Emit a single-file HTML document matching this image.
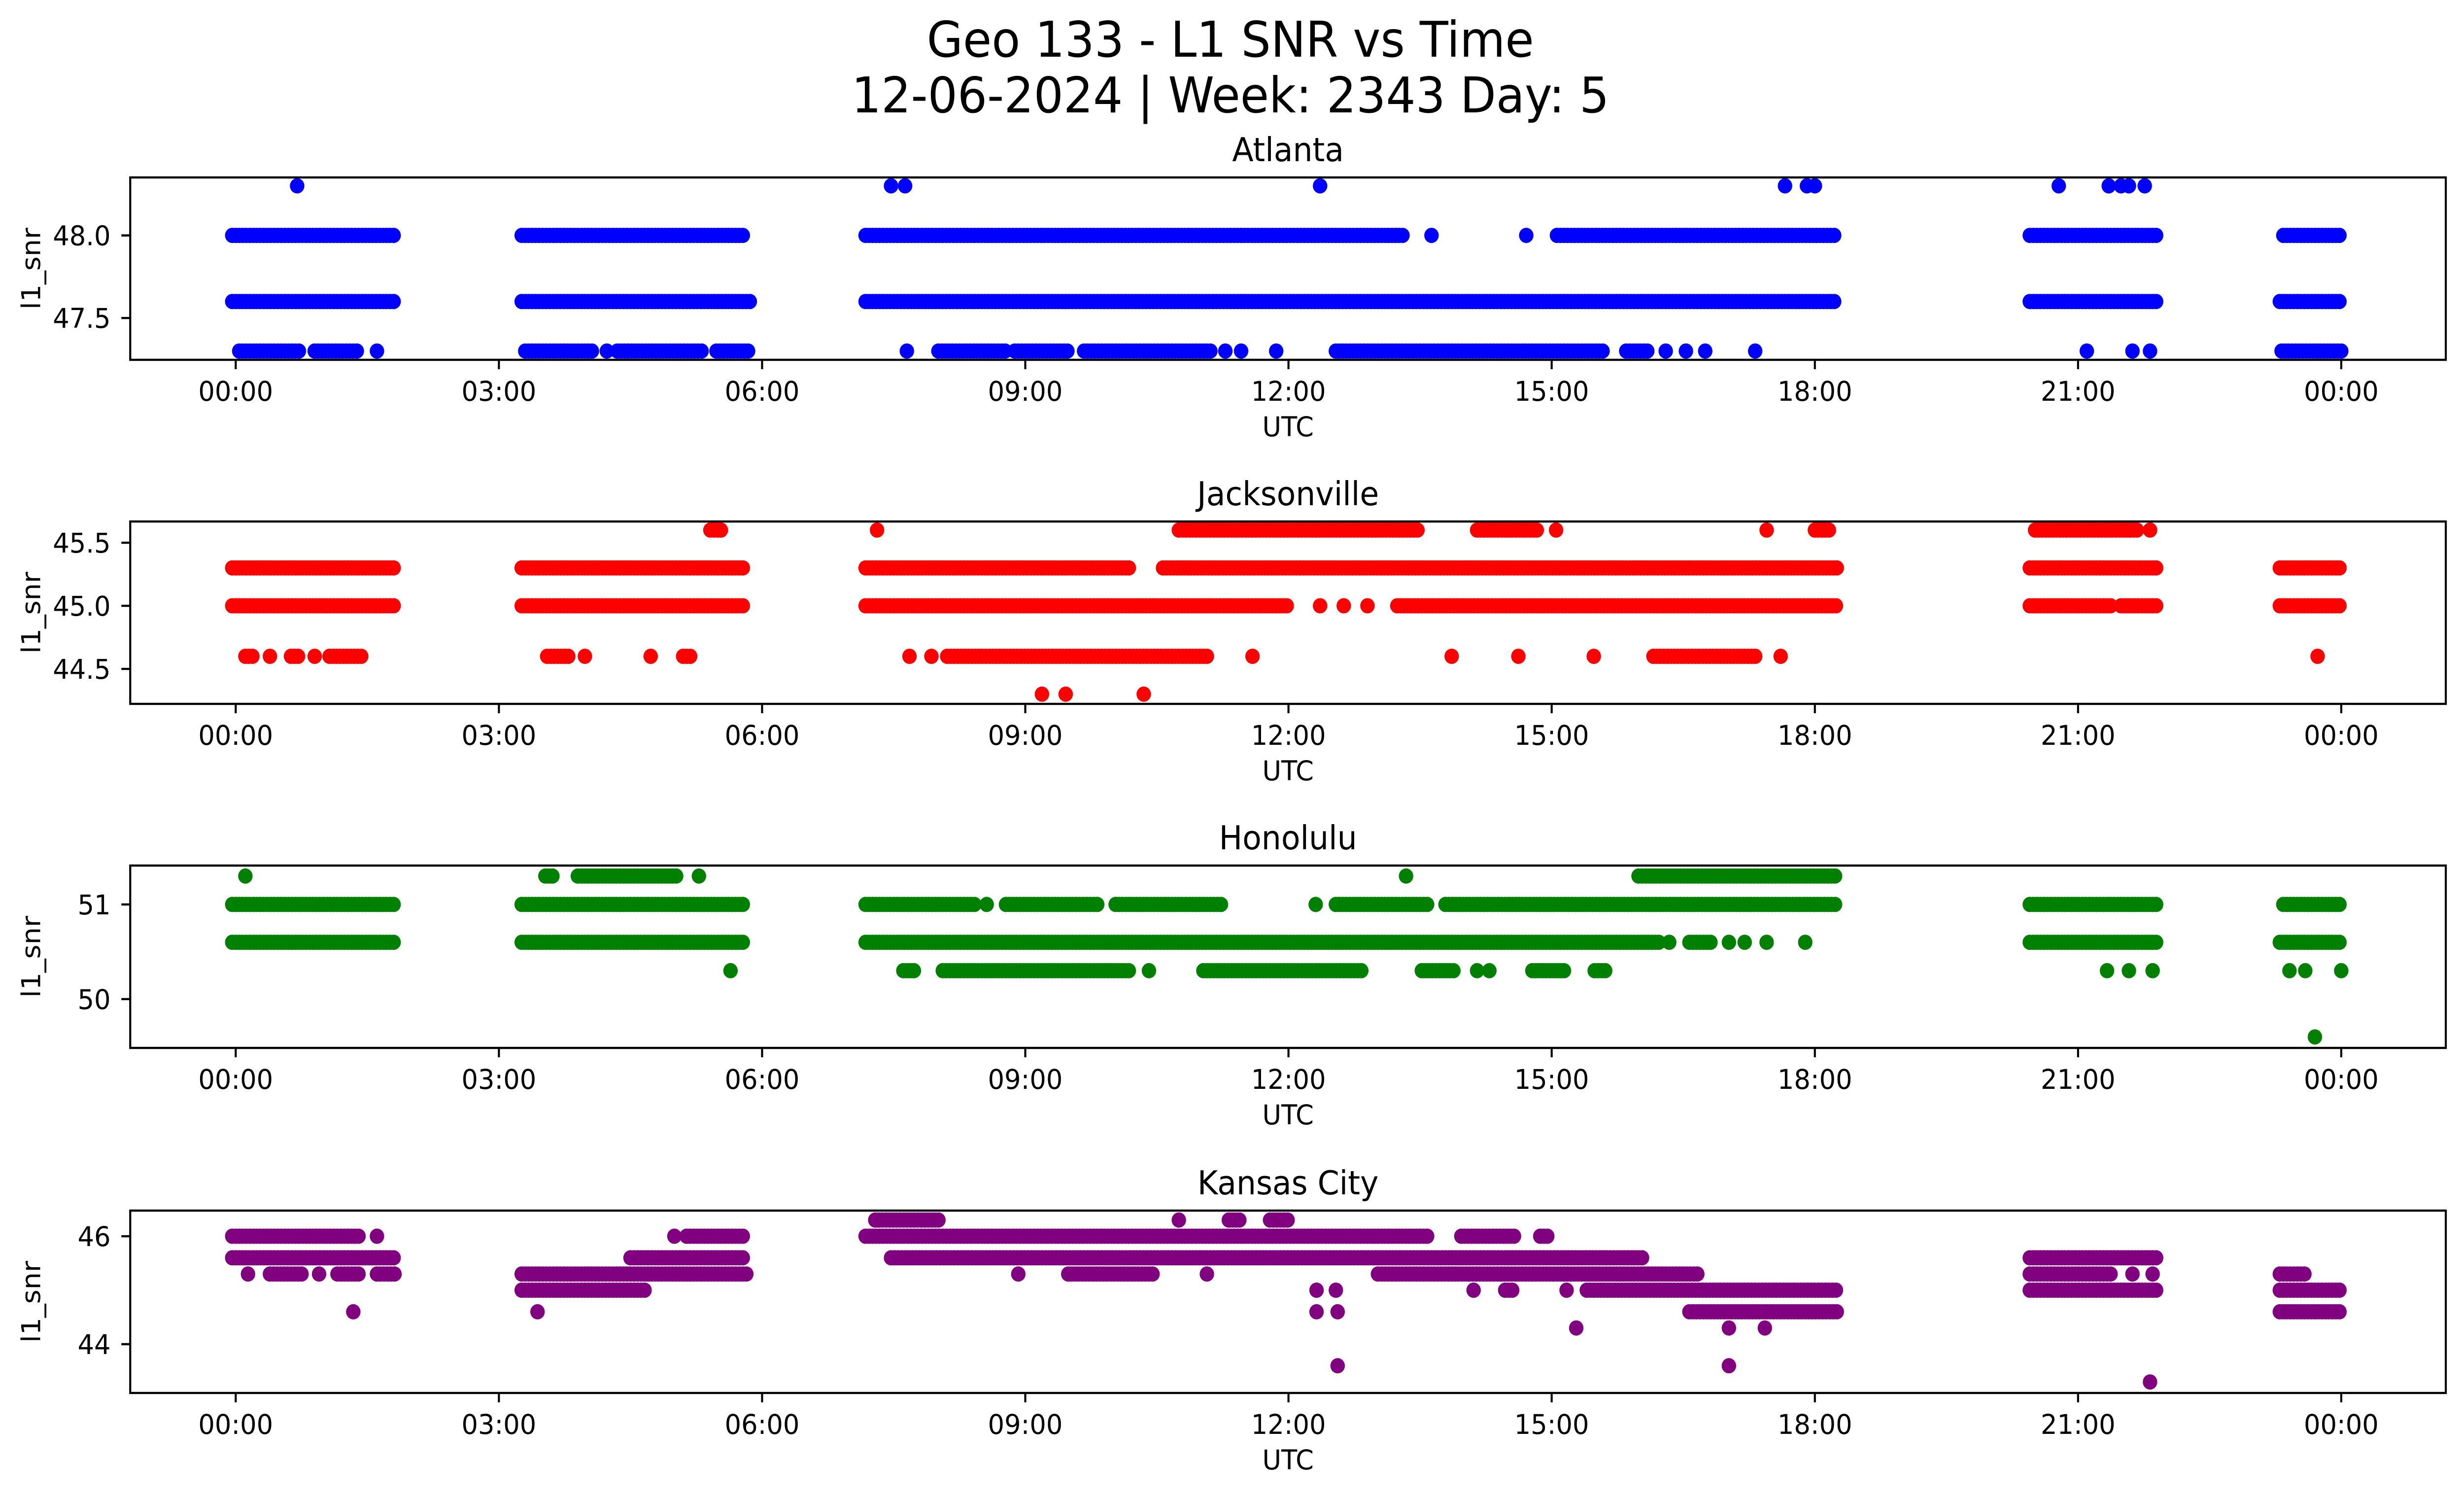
<!DOCTYPE html>
<html><head><meta charset="utf-8"><style>
html,body{margin:0;padding:0;background:#fff;width:100%;height:100%;overflow:hidden;}
svg{display:block;width:100vw;height:100vh;font-family:"DejaVu Sans","Liberation Sans",sans-serif;}
</style></head><body>
<svg id="fig" viewBox="0 0 5279 3033" preserveAspectRatio="none" xmlns="http://www.w3.org/2000/svg">
<rect width="5279" height="3033" fill="#fff"/>
<text x="2636" y="115" font-size="100" text-anchor="middle">Geo 133 - L1 SNR vs Time</text>
<text x="2636" y="228" font-size="100" text-anchor="middle">12-06-2024 | Week: 2343 Day: 5</text>
<g id="plots"></g>
</svg>
<script>
// ---- data (hours UTC, SNR levels) ----
const xTickLabels = ["00:00","03:00","06:00","09:00","12:00","15:00","18:00","21:00","00:00"];
const xTickHours = [0,3,6,9,12,15,18,21,24];
const panelNames = ["Atlanta","Jacksonville","Honolulu","Kansas City"];
const panelColors = ["#0000ff","#ff0000","#008000","#800080"];
const panelDomains = [[47.247,48.351],[44.223,45.668],[49.484,51.411],[43.096,46.475]];
const yTicksAtl = [47.5,48.0];
const yTicksJax = [44.5,45.0,45.5];
const yTicksHon = [50,51];
const yTicksKc = [44,46];
const yTickLabelsAtl = ["47.5","48.0"];
const yTickLabelsJax = ["44.5","45.0","45.5"];
const yTickLabelsHon = ["50","51"];
const yTickLabelsKc = ["44","46"];

const levelsAtl = [48.3,48.0,47.6,47.3];
const runsAtl = [
 [],
 [[-0.04,1.83],[3.26,5.80],[7.18,13.31],[15.06,18.25],[20.45,21.92],[23.34,24.0]],
 [[-0.04,1.83],[3.26,5.86],[7.18,18.25],[20.45,21.92],[23.30,24.0]],
 [[0.04,0.72],[0.90,1.38],[3.30,4.08],[4.35,5.32],[5.48,5.84],[8.01,8.78],[8.88,9.49],[9.67,11.11],[12.54,15.58],[15.85,16.12],[23.32,24.0]]
];
const ptsAtl = [
 [0.70,7.47,7.63,12.36,17.66,17.91,18.0,20.78,21.35,21.49,21.58,21.76],
 [13.63,14.71],
 [],
 [1.61,4.23,7.65,11.28,11.46,11.86,16.30,16.53,16.75,17.32,21.10,21.62,21.82]
];

const levelsJax = [45.6,45.3,45.0,44.6,44.3];
const runsJax = [
 [[5.41,5.55],[10.75,13.49],[14.15,14.83],[18.0,18.16],[20.51,21.67]],
 [[-0.04,1.83],[3.26,5.80],[7.18,10.21],[10.57,18.25],[20.45,21.92],[23.30,24.0]],
 [[-0.04,1.83],[3.26,5.80],[7.18,12.0],[13.24,18.25],[20.45,21.40],[21.49,21.92],[23.30,24.0]],
 [[0.11,0.21],[0.63,0.72],[1.07,1.43],[3.55,3.80],[5.10,5.18],[8.11,11.09],[16.16,17.32]],
 []
];
const ptsJax = [
 [7.31,15.05,17.45,21.82],
 [],
 [12.36,12.63,12.90],
 [0.39,0.90,3.98,4.73,7.68,7.93,11.59,13.86,14.62,15.48,17.61,23.73],
 [9.19,9.46,10.35]
];

const levelsHon = [51.3,51.0,50.6,50.3,49.6];
const runsHon = [
 [[3.53,3.62],[3.90,5.02],[15.99,18.25]],
 [[-0.04,1.83],[3.26,5.80],[7.18,8.42],[8.78,9.85],[10.03,11.23],[12.54,13.61],[13.79,18.25],[20.45,21.92],[23.34,24.0]],
 [[-0.04,1.83],[3.26,5.80],[7.18,16.25],[16.57,16.84],[20.45,21.92],[23.30,24.0]],
 [[7.61,7.76],[8.06,10.21],[11.03,12.86],[13.52,13.88],[14.78,15.14],[15.49,15.64]],
 []
];
const ptsHon = [
 [0.11,5.28,13.34],
 [8.56,12.31],
 [16.34,17.02,17.20,17.45,17.89],
 [5.64,10.41,14.15,14.29,21.33,21.58,21.85,23.41,23.59,24.0],
 [23.70]
];

const levelsKc = [46.3,46.0,45.6,45.3,45.0,44.6,44.3,43.6,43.3];
const runsKc = [
 [[7.29,8.02],[11.32,11.46],[11.79,12.0]],
 [[-0.04,1.43],[5.14,5.80],[7.18,13.61],[13.97,14.58],[14.87,14.96]],
 [[-0.04,1.83],[4.50,5.80],[7.47,16.03],[20.45,21.92]],
 [[0.39,0.77],[1.16,1.43],[1.61,1.83],[3.26,5.82],[9.49,10.48],[13.02,16.66],[20.45,21.40],[23.30,23.61]],
 [[3.26,4.67],[14.47,14.58],[15.40,18.25],[20.45,21.92],[23.30,24.0]],
 [[16.57,18.25],[23.30,24.0]],
 [],[],[]
];
const ptsKc = [
 [10.75],
 [1.61,5.00],
 [],
 [0.14,0.95,8.92,11.07,21.62,21.85],
 [12.32,12.54,14.11,15.17],
 [1.34,3.44,12.32,12.56],
 [15.28,17.02,17.43],
 [12.56,17.02],
 [21.82]
];

const allLevels=[levelsAtl,levelsJax,levelsHon,levelsKc];
const allRuns=[runsAtl,runsJax,runsHon,runsKc];
const allPts=[ptsAtl,ptsJax,ptsHon,ptsKc];
const allYTicks=[yTicksAtl,yTicksJax,yTicksHon,yTicksKc];
const allYTickLabels=[yTickLabelsAtl,yTickLabelsJax,yTickLabelsHon,yTickLabelsKc];

// ---- layout ----
const NS="http://www.w3.org/2000/svg";
const AX_L=279, AX_R=5240, AX_H=370;
const TOPS=[360,1058,1756,2456];
const X0=505, XPH=4511/24;
const R=15.5, STEP=0.04;
function xScale(h){return X0+h*XPH;}
function mk(tag,attrs,parent){const e=document.createElementNS(NS,tag);for(const k in attrs)e.setAttribute(k,attrs[k]);parent.appendChild(e);return e;}
const root=document.getElementById('plots');

for(let p=0;p<4;p++){
  const T=TOPS[p], B=T+AX_H, dom=panelDomains[p];
  const yScale=v=>B-(v-dom[0])/(dom[1]-dom[0])*AX_H;
  const g=mk('g',{},root);
  
  
  const clipId='clip'+p;
  const cp=mk('clipPath',{id:clipId},g);
  mk('rect',{x:AX_L,y:T,width:AX_R-AX_L,height:AX_H},cp);
  const pts=mk('g',{'clip-path':'url(#'+clipId+')',fill:panelColors[p]},g);
  
  
  const lv=allLevels[p];
  for(let i=0;i<lv.length;i++){
    const cy=yScale(lv[i]);
    for(const run of allRuns[p][i]){
      for(let h=run[0];h<=run[1]+1e-9;h+=STEP){
        const c=mk('circle',{cx:xScale(h).toFixed(1),cy:cy.toFixed(1),r:R},pts);
        
        
      }
    }
    for(const h of allPts[p][i]){
      const c=mk('circle',{cx:xScale(h).toFixed(1),cy:cy.toFixed(1),r:R},pts);
      
      
    }
  }
  const frame=mk('rect',{x:AX_L,y:T,width:AX_R-AX_L,height:AX_H,fill:'none',stroke:'#000','stroke-width':4.4},g);
  
  
  for(let k=0;k<xTickHours.length;k++){
    const x=xScale(xTickHours[k]);
    const tk=mk('line',{x1:x,x2:x,y1:B,y2:B+19,stroke:'#000','stroke-width':4.4},g);
    
    
    const tl=mk('text',{x:x,y:B+83,'font-size':55.6,'text-anchor':'middle'},g);
    tl.textContent=xTickLabels[k];
    
    
  }
  const yt=allYTicks[p];
  for(let k=0;k<yt.length;k++){
    const y=yScale(yt[k]);
    const tk=mk('line',{x1:AX_L-19,x2:AX_L,y1:y,y2:y,stroke:'#000','stroke-width':4.4},g);
    
    
    const tl=mk('text',{x:237,y:y+20,'font-size':55.6,'text-anchor':'end'},g);
    tl.textContent=allYTickLabels[p][k];
    
    
  }
  const title=mk('text',{x:(AX_L+AX_R)/2,y:T-33,'font-size':66.7,'text-anchor':'middle'},g);
  title.textContent=panelNames[p];
  
  
  const xl=mk('text',{x:(AX_L+AX_R)/2,y:B+155,'font-size':55.6,'text-anchor':'middle'},g);
  xl.textContent='UTC';
  
  
  const yc=T+AX_H/2;
  const yl=mk('text',{x:86,y:yc,'font-size':55.6,'text-anchor':'middle',transform:'rotate(-90 86 '+yc+')'},g);
  yl.textContent='l1_snr';
  
  
}
</script>
</body></html>
